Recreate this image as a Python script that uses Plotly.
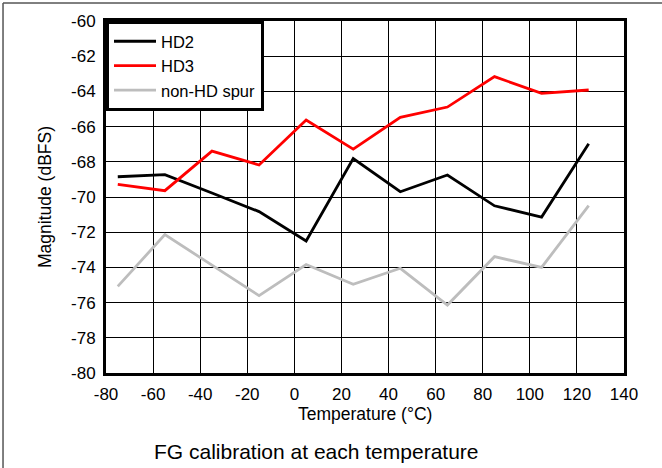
import plotly.graph_objects as go

temperature = [-75, -55, -35, -15, 5, 25, 45, 65, 85, 105, 125]
hd2 = [-68.85, -68.73, -69.77, -70.83, -72.5, -67.82, -69.7, -68.75, -70.5, -71.14, -66.97]
hd3 = [-69.28, -69.64, -67.39, -68.18, -65.63, -67.28, -65.47, -64.89, -63.16, -64.11, -63.92]
spur = [-75.08, -72.14, -73.87, -75.6, -73.84, -74.96, -74.05, -76.14, -73.39, -74.0, -70.49]

series_names = ["HD2", "HD3", "non-HD spur"]
series_colors = ["#000000", "#ff0000", "#bdbdbd"]
x_ticks = list(range(-80, 141, 20))
y_ticks = list(range(-80, -59, 2))

FONT = "Liberation Sans, Arial, Helvetica, sans-serif"

fig = go.Figure()
for name, vals, col in zip(series_names, [hd2, hd3, spur], series_colors):
    fig.add_trace(go.Scatter(x=temperature, y=vals, mode="lines", name=name,
                             line=dict(color=col, width=2.8)))

fig.update_layout(
    width=662, height=468,
    margin=dict(l=106, r=38, t=21, b=95),
    paper_bgcolor="white", plot_bgcolor="white",
    font=dict(family=FONT, size=17, color="black"),
    showlegend=True,
    legend=dict(x=0, y=1, xanchor="left", yanchor="top",
                bgcolor="white", bordercolor="black", borderwidth=3,
                font=dict(size=16.5), tracegroupgap=0, itemwidth=42),
    xaxis=dict(range=[-80, 140], tickvals=x_ticks, ticktext=[str(v) for v in x_ticks],
               showgrid=True, gridcolor="black", gridwidth=1,
               showline=True, linecolor="black", linewidth=3, mirror=True,
               ticks="outside", ticklen=4, tickcolor="rgba(0,0,0,0)",
               zeroline=False, fixedrange=True),
    yaxis=dict(range=[-80, -60], tickvals=y_ticks, ticktext=[str(v) for v in y_ticks],
               showgrid=True, gridcolor="black", gridwidth=1,
               showline=True, linecolor="black", linewidth=3, mirror=True,
               ticks="outside", ticklen=4, tickcolor="rgba(0,0,0,0)",
               zeroline=False, fixedrange=True),
    annotations=[
        dict(text="Magnitude (dBFS)", xref="paper", yref="paper",
             x=-0.1178, y=0.5, textangle=-90, showarrow=False,
             xanchor="center", yanchor="middle", font=dict(size=17.5)),
        dict(text="Temperature (°C)", xref="paper", yref="paper",
             x=0.5, y=-0.1165, showarrow=False,
             xanchor="center", yanchor="middle", font=dict(size=17.5)),
        dict(text="FG calibration at each temperature", xref="paper", yref="paper",
             x=0.407, y=-0.2244, showarrow=False,
             xanchor="center", yanchor="middle", font=dict(size=21)),
    ],
    shapes=[
        dict(type="line", xref="paper", yref="paper", x0=-0.1988, x1=1.08,
             y0=1.0511, y1=1.0511, line=dict(color="black", width=1)),
        dict(type="line", xref="paper", yref="paper", x0=-0.1988, x1=-0.1988,
             y0=1.0511, y1=-0.28, line=dict(color="#555555", width=1.5)),
    ],
)

fig.write_html("out.html", config={"displayModeBar": False},
               post_script="document.body.style.margin='0';")
